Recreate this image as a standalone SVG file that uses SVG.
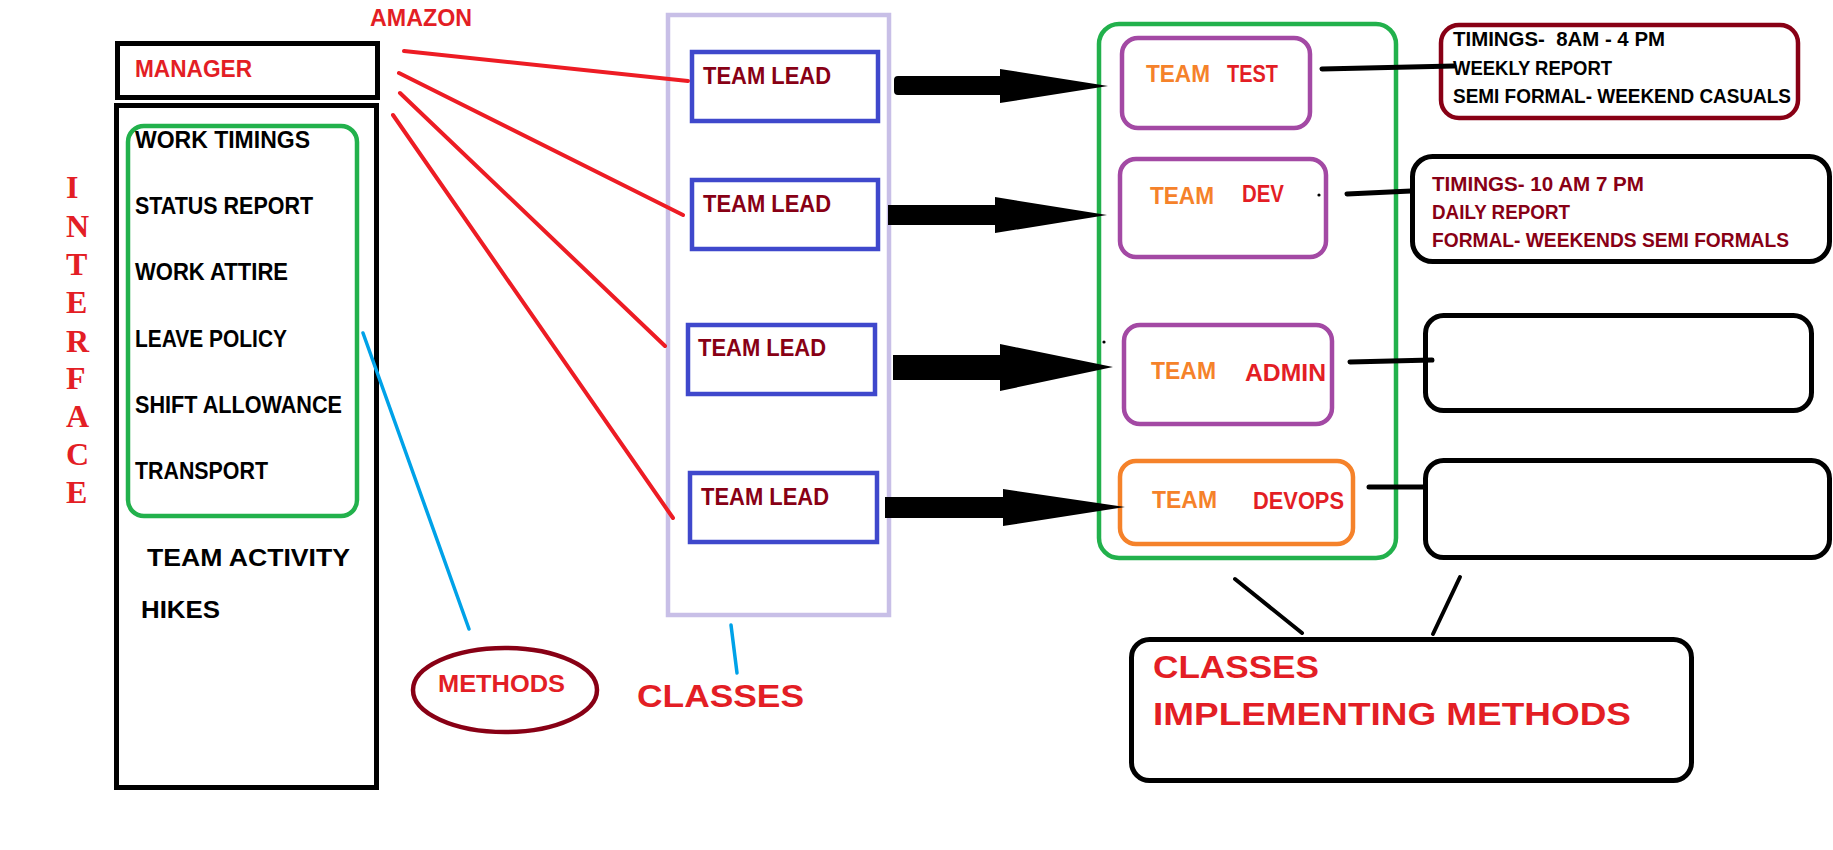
<svg xmlns="http://www.w3.org/2000/svg" width="1833" height="850" viewBox="0 0 1833 850">
<style>
text{font-family:"Liberation Sans",Arial,sans-serif;font-weight:bold}
.serif{font-family:"Liberation Serif","Times New Roman",serif;font-weight:bold;font-size:32px;fill:#E31E25}
.red{fill:#E31E25}
.dred{fill:#880015}
.blk{fill:#000}
.org{fill:#F5822A}
.box{fill:none}
.k5{stroke:#000;stroke-width:5}
.blue{stroke:#3F48CC;stroke-width:4.5;fill:none}
.purple{stroke:#A349A4;stroke-width:4.5;fill:none}
.green{stroke:#22B14C;stroke-width:4.5;fill:none}
.rl{stroke:#ED1C24;stroke-width:4;stroke-linecap:round}
.bl{stroke:#00A2E8;stroke-width:3.5;stroke-linecap:round}
.kl{stroke:#000;stroke-width:5;stroke-linecap:round}
.kt{stroke:#000;stroke-width:4;stroke-linecap:round}
.f22{font-size:23px}
.f20{font-size:21px}
.f19{font-size:20px}
</style>

<g id="amazon"><text class="red f22" x="370" y="26" textLength="102" lengthAdjust="spacingAndGlyphs">AMAZON</text></g>

<g id="interface-label">
<text class="serif" x="66" y="198">I</text>
<text class="serif" x="66" y="237">N</text>
<text class="serif" x="66" y="275">T</text>
<text class="serif" x="66" y="313">E</text>
<text class="serif" x="66" y="352">R</text>
<text class="serif" x="66" y="389">F</text>
<text class="serif" x="66" y="427">A</text>
<text class="serif" x="66" y="465">C</text>
<text class="serif" x="66" y="503">E</text>
</g>

<g id="manager">
<rect class="box k5" x="117.5" y="43.5" width="260" height="54"/>
<text class="red" font-size="24" x="135" y="77" textLength="117" lengthAdjust="spacingAndGlyphs">MANAGER</text>
</g>

<g id="interface">
<rect class="box k5" x="116.5" y="105.5" width="260" height="682"/>
<rect class="green" x="128" y="126" width="229" height="390" rx="16"/>
<text class="blk f22" x="135" y="148" textLength="175" lengthAdjust="spacingAndGlyphs">WORK TIMINGS</text>
<text class="blk f22" x="135" y="214" textLength="178" lengthAdjust="spacingAndGlyphs">STATUS REPORT</text>
<text class="blk f22" x="135" y="280" textLength="153" lengthAdjust="spacingAndGlyphs">WORK ATTIRE</text>
<text class="blk f22" x="135" y="347" textLength="152" lengthAdjust="spacingAndGlyphs">LEAVE POLICY</text>
<text class="blk f22" x="135" y="413" textLength="207" lengthAdjust="spacingAndGlyphs">SHIFT ALLOWANCE</text>
<text class="blk f22" x="135" y="479" textLength="133" lengthAdjust="spacingAndGlyphs">TRANSPORT</text>
<text class="blk f22" x="147" y="566" textLength="203" lengthAdjust="spacingAndGlyphs">TEAM ACTIVITY</text>
<text class="blk f22" x="141" y="618" textLength="79" lengthAdjust="spacingAndGlyphs">HIKES</text>
</g>

<g id="methods">
<ellipse cx="505" cy="690" rx="92" ry="42" fill="none" stroke="#880015" stroke-width="4.5"/>
<text class="red" font-size="24" x="438" y="692" textLength="127" lengthAdjust="spacingAndGlyphs">METHODS</text>
</g>

<g id="classes-container">
<rect x="668" y="15" width="221" height="600" fill="none" stroke="#C8BFE7" stroke-width="4.5"/>
</g>

<g id="team-lead-1"><rect class="blue" x="692" y="52" width="186" height="69"/><text class="dred f22" x="703" y="84" textLength="128" lengthAdjust="spacingAndGlyphs">TEAM LEAD</text></g>
<g id="team-lead-2"><rect class="blue" x="692" y="180" width="186" height="69"/><text class="dred f22" x="703" y="212" textLength="128" lengthAdjust="spacingAndGlyphs">TEAM LEAD</text></g>
<g id="team-lead-3"><rect class="blue" x="688" y="325" width="187" height="69"/><text class="dred f22" x="698" y="356" textLength="128" lengthAdjust="spacingAndGlyphs">TEAM LEAD</text></g>
<g id="team-lead-4"><rect class="blue" x="690" y="473" width="187" height="69"/><text class="dred f22" x="701" y="505" textLength="128" lengthAdjust="spacingAndGlyphs">TEAM LEAD</text></g>

<g id="classes-label"><text class="red" font-size="31" x="637" y="707" textLength="167" lengthAdjust="spacingAndGlyphs">CLASSES</text></g>

<g id="teams-container"><rect class="green" x="1099" y="24" width="297" height="534" rx="20"/></g>

<g id="team-test">
<rect class="purple" x="1122" y="38" width="188" height="90" rx="16"/>
<text class="org f22" x="1146" y="82" textLength="64" lengthAdjust="spacingAndGlyphs">TEAM</text>
<text class="red f22" x="1227" y="82" textLength="51" lengthAdjust="spacingAndGlyphs">TEST</text>
</g>
<g id="team-dev">
<rect class="purple" x="1120" y="159" width="206" height="98" rx="16"/>
<text class="org f22" x="1150" y="204" textLength="64" lengthAdjust="spacingAndGlyphs">TEAM</text>
<text class="red f22" x="1242" y="202" textLength="42" lengthAdjust="spacingAndGlyphs">DEV</text>
<circle cx="1319" cy="195" r="1.6" fill="#000"/>
</g>
<g id="team-admin">
<rect class="purple" x="1124" y="325" width="208" height="99" rx="16"/>
<text class="org f22" x="1151" y="379" textLength="65" lengthAdjust="spacingAndGlyphs">TEAM</text>
<text class="red f22" x="1245" y="381" textLength="81" lengthAdjust="spacingAndGlyphs">ADMIN</text>
</g>
<g id="team-devops">
<rect x="1120" y="461" width="233" height="83" rx="16" fill="none" stroke="#F5822A" stroke-width="4.5"/>
<text class="org f22" x="1152" y="508" textLength="65" lengthAdjust="spacingAndGlyphs">TEAM</text>
<text class="red f22" x="1253" y="509" textLength="91" lengthAdjust="spacingAndGlyphs">DEVOPS</text>
</g>

<g id="test-details">
<rect x="1441" y="25" width="357" height="93" rx="18" fill="none" stroke="#880015" stroke-width="4.5"/>
<text class="blk f20" x="1453" y="46" textLength="212" lengthAdjust="spacingAndGlyphs">TIMINGS-&#160; 8AM - 4 PM</text>
<text class="blk f20" x="1453" y="75" textLength="159" lengthAdjust="spacingAndGlyphs">WEEKLY REPORT</text>
<text class="blk f20" x="1453" y="103" textLength="338" lengthAdjust="spacingAndGlyphs">SEMI FORMAL- WEEKEND CASUALS</text>
</g>
<g id="dev-details">
<rect class="box k5" x="1412.5" y="156.5" width="417" height="105" rx="20"/>
<text class="dred f19" x="1432" y="191" textLength="212" lengthAdjust="spacingAndGlyphs">TIMINGS- 10 AM 7 PM</text>
<text class="dred f19" x="1432" y="219" textLength="138" lengthAdjust="spacingAndGlyphs">DAILY REPORT</text>
<text class="dred f19" x="1432" y="247" textLength="357" lengthAdjust="spacingAndGlyphs">FORMAL- WEEKENDS SEMI FORMALS</text>
</g>
<g id="admin-details"><rect class="box k5" x="1425.5" y="315.5" width="386" height="95" rx="18"/></g>
<g id="devops-details"><rect class="box k5" x="1425.5" y="460.5" width="404" height="97" rx="18"/></g>

<g id="implementing-note">
<rect class="box k5" x="1131.5" y="639.5" width="560" height="141" rx="18"/>
<text class="red" font-size="31" x="1153" y="678" textLength="166" lengthAdjust="spacingAndGlyphs">CLASSES</text>
<text class="red" font-size="32" x="1153" y="725" textLength="478" lengthAdjust="spacingAndGlyphs">IMPLEMENTING METHODS</text>
</g>

<g id="connectors">
<line class="rl" x1="404" y1="51" x2="688" y2="81"/>
<line class="rl" x1="399" y1="73" x2="683" y2="215"/>
<line class="rl" x1="400" y1="93" x2="665" y2="346"/>
<line class="rl" x1="393" y1="115" x2="673" y2="518"/>
<line class="bl" x1="363" y1="333" x2="469" y2="629"/>
<line class="bl" x1="731" y1="625" x2="737" y2="673"/>
<path d="M898 76H1000V69L1108 86L1000 103V95H898A4 4 0 0 1 894 91V80A4 4 0 0 1 898 76Z" fill="#000"/>
<path d="M888 205H995V197L1107 215L995 233V225H888Z" fill="#000"/>
<path d="M893 355H1000V344L1113 367L1000 391V380H893Z" fill="#000"/>
<path d="M885 497H1003V489L1125 507L1003 526V518H885Z" fill="#000"/>
<circle cx="1104" cy="342" r="1.6" fill="#000"/>
<line class="kl" x1="1322" y1="69" x2="1454" y2="66"/>
<line class="kl" x1="1347" y1="194" x2="1411" y2="191"/>
<line class="kl" x1="1350" y1="362" x2="1432" y2="360"/>
<line class="kl" x1="1369" y1="487" x2="1424" y2="487"/>
<line class="kt" x1="1235" y1="579" x2="1302" y2="633"/>
<line class="kt" x1="1460" y1="577" x2="1433" y2="634"/>
</g>
</svg>
